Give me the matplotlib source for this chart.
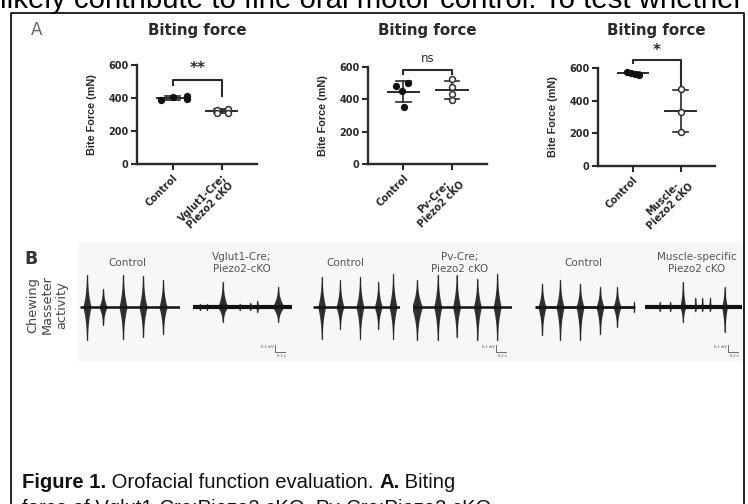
import matplotlib
matplotlib.use("Agg")
import matplotlib.pyplot as plt
import numpy as np
from matplotlib.patches import Rectangle

plt.rcParams['font.family'] = ['Liberation Sans', 'DejaVu Sans']

W, H = 748, 504
# ---------------- data ----------------
titles = ["Biting force", "Biting force", "Biting force"]
cats1 = ["Control", "Vglut1-Cre;\nPiezo2 cKO"]
cats2 = ["Control", "Pv-Cre;\nPiezo2 cKO"]
cats3 = ["Control", "Muscle-\nPiezo2 cKO"]
ctrl1 = [390, 405, 415, 395]
cko1 = [330, 310, 335, 312]
ctrl2 = [483, 498, 450, 354]
cko2 = [528, 477, 432, 395]
ctrl3 = [578, 570, 565, 560]
cko3 = [470, 330, 210]
sig_labels = ["**", "ns", "*"]
yticks = [0, 200, 400, 600]
ylabel = "Bite Force (mN)"

trace_labels = ["Control", "Vglut1-Cre;\nPiezo2-cKO", "Control", "Pv-Cre;\nPiezo2 cKO",
                "Control", "Muscle-specific\nPiezo2 cKO"]
# burst times (fraction of trace), amplitude up / down (a.u.), burst width (fraction)
t1 = [0.07, 0.23, 0.43, 0.63, 0.83]; up1 = [32, 18, 32, 31, 27]; dn1 = [33, 18, 32, 30, 27]
t2 = [0.07, 0.14, 0.30, 0.47, 0.58, 0.65, 0.86]; up2 = [3, 3, 25, 3, 4, 6, 20]; dn2 = [3, 3, 15, 3, 3, 5, 15]
t3 = [0.10, 0.31, 0.54, 0.75, 0.92]; up3 = [30, 27, 30, 25, 33]; dn3 = [32, 22, 32, 22, 32]
t4 = [0.04, 0.25, 0.44, 0.65, 0.85]; up4 = [27, 32, 32, 28, 33]; dn4 = [33, 33, 30, 33, 33]
t5 = [0.07, 0.25, 0.45, 0.65, 0.82, 0.99]; up5 = [23, 27, 23, 20, 20, 5]; dn5 = [28, 33, 33, 27, 20, 5]
t6 = [0.15, 0.26, 0.39, 0.52, 0.59, 0.67, 0.82]; up6 = [5, 5, 25, 9, 9, 9, 20]; dn6 = [4, 4, 15, 4, 4, 4, 25]
w1 = [0.07] * 5
w2 = [0.02, 0.02, 0.09, 0.02, 0.03, 0.03, 0.11]
w3 = [0.08] * 5
w4 = [0.10, 0.07, 0.07, 0.07, 0.07]
w5 = [0.07, 0.07, 0.07, 0.07, 0.07, 0.01]
w6 = [0.02, 0.02, 0.05, 0.02, 0.02, 0.02, 0.05]

top_text = "likely contribute to fine oral motor control. To test whether"
caption1 = [("Figure 1.", "bold"), (" Orofacial function evaluation. ", "normal"), ("A.", "bold"), (" Biting", "normal")]
caption2 = [("force of Vglut1-Cre;Piezo2 cKO, Pv-Cre;Piezo2 cKO", "normal")]

# ---------------- layout helpers ----------------
fig = plt.figure(figsize=(W / 100, H / 100), dpi=100)
fig.patch.set_facecolor("white")

def rect(l, t, r, b):
    return [l / W, 1 - b / H, (r - l) / W, (b - t) / H]

bg = fig.add_axes([0, 0, 1, 1])
bg.set_xlim(0, W); bg.set_ylim(H, 0); bg.axis("off")
# document frame
bg.plot([11, 11, 744, 744], [H + 5, 13, 13, H + 5], color="black", lw=1.2)
bg.add_patch(Rectangle((78, 243), 666, 118, facecolor="#f7f7f7", edgecolor="none", zorder=0))

bg.text(0, 8, top_text, fontsize=21.2, ha="left", va="baseline", color="black")

renderer = fig.canvas.get_renderer()
def seg_text(x, y, segs, fs):
    for s, wgt in segs:
        t = bg.text(x, y, s, fontsize=fs, fontweight=wgt, ha="left", va="baseline", color="#111")
        bb = t.get_window_extent(renderer=renderer)
        x += bb.width
seg_text(22, 488, caption1, 14.6)
seg_text(22, 514, caption2, 14.6)

PF = ['DejaVu Sans']
bg.text(37, 30, "A", fontsize=12, color="#666", ha="center", va="center", family=PF)
bg.text(31, 259, "B", fontsize=12.5, fontweight="bold", color="#333", ha="center", va="center", family=PF)
bg.text(47, 305, "Chewing\nMasseter\nactivity", fontsize=9.3, color="#444", rotation=90,
        ha="center", va="center", linespacing=1.15, family=PF)

# ---------------- Panel A ----------------
panels = [
    ((137, 65, 257, 164), cats1, ctrl1, cko1, [-0.25, 0.0, 0.3, 0.3], [-0.1, -0.1, 0.12, 0.12],
     (509, 479, 412), sig_labels[0]),
    ((368, 67, 487, 164), cats2, ctrl2, cko2, [-0.16, 0.09, -0.02, 0.01], [0, 0, 0, 0],
     (580, 556, 556), sig_labels[1]),
    ((598, 68, 715, 166), cats3, ctrl3, cko3, [-0.12, -0.04, 0.04, 0.12], [0, 0, 0],
     (651, 630, 490), sig_labels[2]),
]
dark = "#2a2a2a"
for i, (box, cats, c, k, oc, ok, br, sig) in enumerate(panels):
    ax = fig.add_axes(rect(*box))
    ax.set_facecolor("none")
    ax.set_xlim(-0.73, 1.72)
    ax.set_ylim(0, 600)
    for s in ["top", "right"]:
        ax.spines[s].set_visible(False)
    for s in ["left", "bottom"]:
        ax.spines[s].set_linewidth(1.7)
        ax.spines[s].set_color(dark)
    ax.set_yticks(yticks)
    ax.set_xticks([0, 1])
    ax.set_xticklabels(cats, rotation=45, ha="right", va="top", rotation_mode="anchor",
                       fontsize=8.3, fontweight="bold", color=dark, linespacing=1.05,
                       family=PF, multialignment="center")
    ax.tick_params(axis="both", direction="out", length=4, width=1.5, color=dark,
                   labelsize=7, labelcolor=dark, pad=2)
    for lb in ax.get_yticklabels():
        lb.set_fontweight("bold"); lb.set_family(PF)
    ax.set_ylabel(ylabel, fontsize=7.8, fontweight="bold", color=dark, labelpad=8)
    bg.text((box[0] + box[2]) / 2, 30, titles[i], fontsize=10.8, fontweight="bold", color=dark,
            ha="center", va="center", family=PF)
    for j, (vals, offs) in enumerate([(c, oc), (k, ok)]):
        vals = np.array(vals, float)
        m, sd = vals.mean(), vals.std(ddof=1)
        ax.plot([j - 0.32, j + 0.32], [m, m], color=dark, lw=1.4, clip_on=False, zorder=3)
        ax.plot([j, j], [m - sd, m + sd], color=dark, lw=1.2, clip_on=False, zorder=3)
        for yy in (m - sd, m + sd):
            ax.plot([j - 0.15, j + 0.15], [yy, yy], color=dark, lw=1.2, clip_on=False, zorder=3)
        if j == 0:
            ax.scatter(np.array(offs) + j, vals, s=18, color="#111", zorder=4, clip_on=False)
        else:
            ax.scatter(np.array(offs) + j, vals, s=18, facecolor="white", edgecolor="#333",
                       linewidth=1.1, zorder=4, clip_on=False)
    top, ll, rl = br
    ax.plot([0, 0, 1, 1], [ll, top, top, rl], color=dark, lw=1.5, clip_on=False)
    if sig == "ns":
        ax.text(0.5, top + 30, sig, ha="center", va="bottom", fontsize=8.5, color=dark, family=PF)
    elif sig == "**":
        ax.text(0.5, top + 22, sig, ha="center", va="bottom", fontsize=11, fontweight="bold",
                color=dark, family=PF)
    else:
        ax.text(0.5, top + 12, sig, ha="center", va="bottom", fontsize=11, fontweight="bold",
                color=dark, family=PF)

# ---------------- Panel B ----------------
traces = [
    ((80, 180), t1, up1, dn1, w1, 1.8),
    ((193, 292), t2, up2, dn2, w2, 3.0),
    ((313, 400), t3, up3, dn3, w3, 1.8),
    ((413, 512), t4, up4, dn4, w4, 1.8),
    ((535, 635), t5, up5, dn5, w5, 2.0),
    ((645, 742), t6, up6, dn6, w6, 3.0),
]
label_x = [127, 242, 345, 460, 583, 697]
scale_pos = [None, (275, 352), None, (496, 352), None, (728, 352)]
for i, ((x0, x1), ts, ups, dns, ws, blw) in enumerate(traces):
    ax = fig.add_axes(rect(x0, 271, x1, 343))
    ax.set_xlim(0, 1); ax.set_ylim(-36, 36); ax.axis("off")
    ax.plot([0, 1], [0, 0], color="#111", lw=blw, solid_capstyle="butt")
    for t, u, d, w in zip(ts, ups, dns, ws):
        yy = np.linspace(-d, u, 200)
        a = np.where(yy >= 0, u, d)
        prof = (1 - np.abs(yy) / a) ** 2.2
        hw = w / 2 * prof + 0.006
        ax.fill_betweenx(yy, t - hw, t + hw, color="#111", alpha=0.85, lw=0)
        ax.plot([t, t], [-d, u], color="#222", lw=0.9, alpha=0.7)
    lab = trace_labels[i]
    bg.text(label_x[i], 263, lab, fontsize=7.5, color="#555",
            ha="center", va="center", linespacing=1.35, family=PF)
    if scale_pos[i] is not None:
        sx, sy = scale_pos[i]
        bg.plot([sx, sx, sx + 10], [sy - 7, sy, sy], color="#555", lw=0.6)
        bg.text(sx - 1, sy - 5, "0.1 mV", fontsize=3, color="#555", ha="right", va="center")
        bg.text(sx + 6, sy + 4, "0.1 s", fontsize=3, color="#555", ha="center", va="center")

fig.savefig("out.png", dpi=100, facecolor="white")
